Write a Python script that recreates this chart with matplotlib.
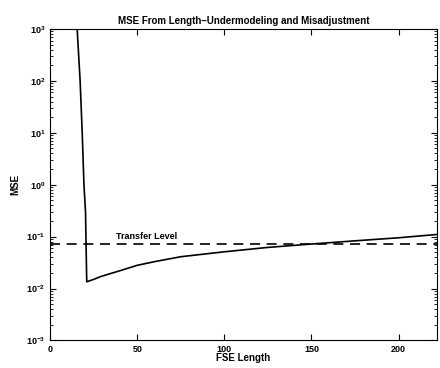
import matplotlib.pyplot as plt
from matplotlib.ticker import LogLocator

# MSE vs FSE length
fse_length = [15.5, 17.2, 18.4, 19.4, 20.3, 20.8, 21, 25, 29, 40, 50, 60, 75, 100,
              125, 150, 175, 200, 222]
mse = [1000, 100, 10, 1.0, 0.3, 0.03, 0.0135, 0.015, 0.017, 0.022, 0.028,
       0.033, 0.041, 0.051, 0.062, 0.072, 0.083, 0.095, 0.11]
transfer_level = 0.073
x_max = 222

plt.rcParams['font.family'] = ['Liberation Sans', 'DejaVu Sans']
plt.rcParams['font.weight'] = 'bold'
plt.rcParams['axes.titleweight'] = 'bold'
plt.rcParams['axes.labelweight'] = 'bold'

fig = plt.figure(figsize=(4.4, 3.68), dpi=100)
ax = fig.add_axes([0.114, 0.075, 0.879, 0.846])

ax.semilogy(fse_length, mse, color='black', linewidth=1.2)
ax.axhline(transfer_level, color='black', linewidth=1.2, linestyle=(0, (6, 4)))
ax.text(38, transfer_level * 1.12, 'Transfer Level', fontsize=6.5, va='bottom')

ax.set_xlim(0, x_max)
ax.set_ylim(1e-3, 1e3)
ax.set_xticks([0, 50, 100, 150, 200])
ax.yaxis.set_major_locator(LogLocator(base=10, numticks=10))
ax.yaxis.set_minor_locator(LogLocator(base=10, subs=range(2, 10), numticks=10))

ax.tick_params(which='both', direction='in', top=True, right=True, labelsize=6.5)
ax.tick_params(which='major', length=4)
ax.tick_params(which='minor', length=2)

ax.set_title('MSE From Length\u2013Undermodeling and Misadjustment', fontsize=7, pad=4)
ax.set_xlabel('FSE Length', fontsize=7, labelpad=-1)
ax.set_ylabel('MSE', fontsize=7, labelpad=4)

fig.savefig('out.png', dpi=100)
